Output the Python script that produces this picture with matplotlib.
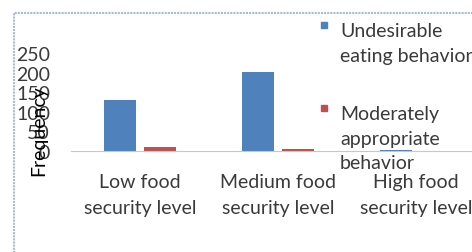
import matplotlib
matplotlib.use("Agg")
import matplotlib.pyplot as plt
import numpy as np
from matplotlib.patches import Rectangle

categories = ["Low food\nsecurity level", "Medium food\nsecurity level", "High food\nsecurity level"]
series_names = ["Undesirable\neating behavior", "Moderately\nappropriate\nbehavior"]
undesirable = [130, 201, 3]
moderate = [10, 6, 0]
yticks = [0, 50, 100, 150, 200, 250]
colors = ["#4F81BD", "#C0504D"]

plt.rcParams['font.family'] = ['Lato', 'DejaVu Sans']
FS = 14
W, H = 472, 253
fig = plt.figure(figsize=(W / 100, H / 100), dpi=100)

# chart frame (light dotted border, top and left)
fig.patches.append(Rectangle((14 / W, -0.1), 1.2, (H - 14) / H + 0.1, transform=fig.transFigure,
                             fill=False, edgecolor="#A7BCDD", lw=1.5, ls=(0, (1, 0.5))))

ax = fig.add_axes([71 / W, 101 / H, 414 / W, 98 / H])
x = np.arange(len(categories))
bw = 0.232
ax.bar(x - 0.145, undesirable, bw, color=colors[0])
ax.bar(x + 0.145, moderate, bw, color=colors[1])
ax.set_xlim(-0.5, 2.5)
ax.set_ylim(0, 250)
ax.set_yticks(yticks)
ax.set_xticks(x)
ax.set_xticklabels(categories, fontsize=FS, color="#3A3A3A", linespacing=1.6)
ax.tick_params(axis='y', length=0, pad=15, labelsize=FS, labelcolor="#3A3A3A")
ax.tick_params(axis='x', length=0, pad=16)
for s in ["top", "right", "left"]:
    ax.spines[s].set_visible(False)
ax.spines["bottom"].set_color("#C8C8C8")
ax.set_facecolor("none")
ax.set_ylabel("Frequency", fontsize=FS, color="black")
ax.yaxis.set_label_coords(-0.058, 0.22)

# legend
ly = [23, 106]
for i, name in enumerate(series_names):
    fig.patches.append(Rectangle((321 / W, 1 - (ly[i] + 6) / H), 6 / W, 6 / H,
                                 transform=fig.transFigure, color=colors[i]))
    fig.text(340 / W, 1 - ly[i] / H, name, fontsize=FS, color="#3A3A3A",
             va="top", ha="left", linespacing=1.55)

fig.savefig("out.png", dpi=100)
